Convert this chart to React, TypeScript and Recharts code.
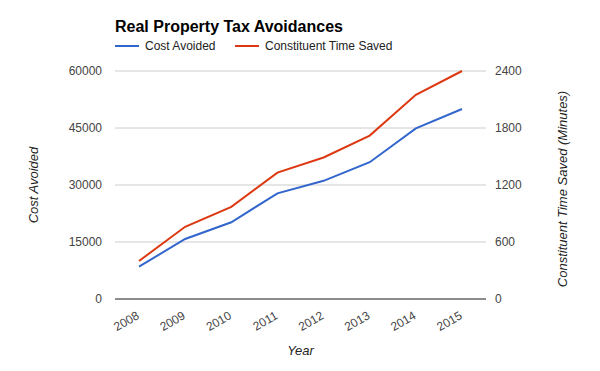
import React from 'react';
import { LineChart, Line, XAxis, YAxis, CartesianGrid } from 'recharts';

const years = ['2008', '2009', '2010', '2011', '2012', '2013', '2014', '2015'];
const costAvoided = [8500, 15800, 20200, 27800, 31100, 36000, 44900, 50000];
const timeSaved = [400, 760, 970, 1330, 1490, 1720, 2150, 2400];
const costTicks = [0, 15000, 30000, 45000, 60000];
const timeTicks = [0, 600, 1200, 1800, 2400];

const series = [
  { key: 'cost', name: 'Cost Avoided', color: '#3366cc', axis: 'left' },
  { key: 'time', name: 'Constituent Time Saved', color: '#dc3912', axis: 'right' },
];

const data = years.map((year, i) => ({ year, cost: costAvoided[i], time: timeSaved[i] }));

const FONT = 'Arial, "Liberation Sans", sans-serif';

const YearTick = (props: any) => {
  const { x, payload } = props;
  const tx = x + 1;
  const ty = 318;
  return (
    <text
      x={tx}
      y={ty}
      transform={`rotate(-30 ${tx} ${ty})`}
      textAnchor="end"
      fontSize={12}
      fontFamily={FONT}
      fill="#444"
    >
      {payload.value}
    </text>
  );
};

const legendX = [115, 235];

export default function App() {
  return (
    <div style={{ position: 'absolute', left: 0, top: 0, width: 600, height: 371, background: '#fff' }}>
      <svg width={600} height={60} style={{ position: 'absolute', left: 0, top: 0 }}>
        <text x={115} y={32} fontSize={16} fontWeight="bold" fontFamily={FONT} fill="#000">
          Real Property Tax Avoidances
        </text>
        {series.map((s, i) => (
          <g key={s.key}>
            <line x1={legendX[i]} x2={legendX[i] + 24} y1={46} y2={46} stroke={s.color} strokeWidth={2} />
            <text x={legendX[i] + 30} y={50} fontSize={12} fontFamily={FONT} fill="#222">
              {s.name}
            </text>
          </g>
        ))}
      </svg>
      <LineChart width={600} height={371} data={data} margin={{ top: 71, right: 0, bottom: 0, left: 0 }}>
        <CartesianGrid yAxisId="left" vertical={false} stroke="#cccccc" strokeDasharray="" />
        <XAxis
          dataKey="year"
          height={72}
          padding={{ left: 24, right: 24 }}
          axisLine={{ stroke: '#333', strokeWidth: 1 }}
          tickLine={false}
          tick={<YearTick />}
          interval={0}
          label={({ viewBox }: any) => (
            <text
              x={viewBox.x + viewBox.width / 2}
              y={355}
              textAnchor="middle"
              fontSize={13}
              fontStyle="italic"
              fontFamily={FONT}
              fill="#222"
            >
              Year
            </text>
          )}
        />
        <YAxis
          yAxisId="left"
          orientation="left"
          width={115}
          domain={[0, 60000]}
          ticks={costTicks}
          axisLine={false}
          tickLine={false}
          tickSize={0}
          tickMargin={13}
          tick={{ fontSize: 12, fill: '#444', fontFamily: FONT }}
          label={({ viewBox }: any) => (
            <text
              x={38}
              y={viewBox.y + viewBox.height / 2}
              transform={`rotate(-90 38 ${viewBox.y + viewBox.height / 2})`}
              textAnchor="middle"
              fontSize={13}
              fontStyle="italic"
              fontFamily={FONT}
              fill="#222"
            >
              Cost Avoided
            </text>
          )}
        />
        <YAxis
          yAxisId="right"
          orientation="right"
          width={114}
          domain={[0, 2400]}
          ticks={timeTicks}
          axisLine={false}
          tickLine={false}
          tickSize={0}
          tickMargin={9}
          tick={{ fontSize: 12, fill: '#444', fontFamily: FONT }}
          label={({ viewBox }: any) => (
            <text
              x={567}
              y={viewBox.y + viewBox.height / 2 + 4}
              transform={`rotate(-90 567 ${viewBox.y + viewBox.height / 2 + 4})`}
              textAnchor="middle"
              fontSize={13}
              fontStyle="italic"
              fontFamily={FONT}
              fill="#222"
            >
              Constituent Time Saved (Minutes)
            </text>
          )}
        />
        {series.map((s) => (
          <Line
            key={s.key}
            yAxisId={s.axis}
            dataKey={s.key}
            name={s.name}
            stroke={s.color}
            strokeWidth={2}
            dot={false}
            activeDot={false}
            isAnimationActive={false}
            type="linear"
          />
        ))}
      </LineChart>
    </div>
  );
}
